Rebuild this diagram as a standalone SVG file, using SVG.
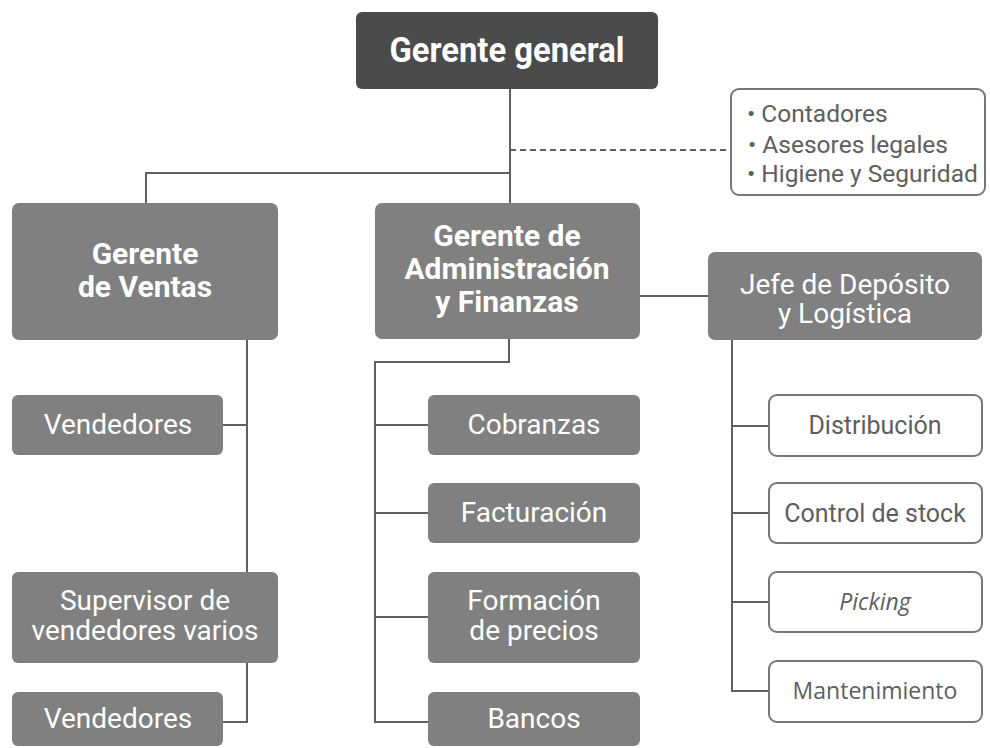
<svg xmlns="http://www.w3.org/2000/svg" width="990" height="748" viewBox="0 0 990 748">
<style>
.dark{fill:#4b4b4b}
.mid{fill:#808080}
.out{fill:#ffffff;stroke:#777777;stroke-width:2}
.wb{font-family:Roboto,"Liberation Sans",sans-serif;font-weight:bold;fill:#ffffff;text-anchor:middle}
.wr{font-family:Roboto,"Liberation Sans",sans-serif;fill:#ffffff;text-anchor:middle;font-size:28px}
.gr{font-family:Roboto,"Liberation Sans",sans-serif;fill:#5e5e5e;text-anchor:middle;font-size:25px}
.os{font-family:"Open Sans","Liberation Sans",sans-serif;fill:#5e5e5e;text-anchor:middle;font-size:23px}
.ln{fill:none;stroke:#606060;stroke-width:2}
</style>
<rect width="990" height="748" fill="#ffffff"/>
<g id="connectors">
<path class="ln" d="M510 89V203"/>
<path class="ln" d="M146 203V173H510"/>
<path class="ln" d="M510 150H731" stroke-dasharray="6 4"/>
<path class="ln" d="M247 340V572"/>
<path class="ln" d="M223 425H247"/>
<path class="ln" d="M247 663V722H223"/>
<path class="ln" d="M509 339V362H375V722H428"/>
<path class="ln" d="M375 425H428M375 513H428M375 617H428"/>
<path class="ln" d="M640 296H708"/>
<path class="ln" d="M732 340V691H769"/>
<path class="ln" d="M732 426H769M732 513H769M732 602H769"/>
</g>
<g id="gerente-general">
<rect class="dark" x="356" y="12" width="302" height="77" rx="6"/>
<text class="wb" x="507" y="62" font-size="35" textLength="235" lengthAdjust="spacingAndGlyphs">Gerente general</text>
</g>
<g id="asesores">
<rect class="out" x="731" y="89" width="254" height="106" rx="8"/>
<text font-family="Roboto,'Liberation Sans',sans-serif" font-size="24.5" fill="#5e5e5e">
<tspan x="747" y="122">• Contadores</tspan>
<tspan x="748" y="153">•  Asesores legales</tspan>
<tspan x="747" y="182">• Higiene y Seguridad</tspan>
</text>
</g>
<g id="gerente-ventas">
<rect class="mid" x="12" y="203" width="266" height="137" rx="7"/>
<text class="wb" font-size="30"><tspan x="145" y="264">Gerente</tspan><tspan x="145" y="297">de Ventas</tspan></text>
</g>
<g id="gerente-admin">
<rect class="mid" x="375" y="203" width="265" height="136" rx="7"/>
<text class="wb" font-size="30"><tspan x="507" y="246">Gerente de</tspan><tspan x="507" y="279">Administración</tspan><tspan x="507" y="312">y Finanzas</tspan></text>
</g>
<g id="jefe-deposito">
<rect class="mid" x="708" y="252" width="274" height="88" rx="7"/>
<text class="wr"><tspan x="845" y="294">Jefe de Depósito</tspan><tspan x="845" y="323">y Logística</tspan></text>
</g>
<g id="vendedores-1">
<rect class="mid" x="12" y="395" width="211" height="60" rx="6"/>
<text class="wr" x="118" y="434">Vendedores</text>
</g>
<g id="supervisor">
<rect class="mid" x="12" y="572" width="266" height="91" rx="6"/>
<text class="wr"><tspan x="145" y="610">Supervisor de</tspan><tspan x="145" y="640">vendedores varios</tspan></text>
</g>
<g id="vendedores-2">
<rect class="mid" x="12" y="692" width="211" height="54" rx="6"/>
<text class="wr" x="118" y="728">Vendedores</text>
</g>
<g id="cobranzas">
<rect class="mid" x="428" y="395" width="212" height="60" rx="6"/>
<text class="wr" x="534" y="434">Cobranzas</text>
</g>
<g id="facturacion">
<rect class="mid" x="428" y="483" width="212" height="60" rx="6"/>
<text class="wr" x="534" y="522">Facturación</text>
</g>
<g id="formacion">
<rect class="mid" x="428" y="572" width="212" height="91" rx="6"/>
<text class="wr"><tspan x="534" y="610">Formación</tspan><tspan x="534" y="640">de precios</tspan></text>
</g>
<g id="bancos">
<rect class="mid" x="428" y="692" width="212" height="54" rx="6"/>
<text class="wr" x="534" y="728">Bancos</text>
</g>
<g id="distribucion">
<rect class="out" x="769" y="395" width="213" height="61" rx="8"/>
<text class="gr" x="875" y="434">Distribución</text>
</g>
<g id="control-stock">
<rect class="out" x="769" y="483" width="213" height="60" rx="8"/>
<text class="gr" x="875" y="522">Control de stock</text>
</g>
<g id="picking">
<rect class="out" x="769" y="572" width="213" height="60" rx="8"/>
<text class="os" x="875" y="610" font-style="italic">Picking</text>
</g>
<g id="mantenimiento">
<rect class="out" x="769" y="661" width="213" height="61" rx="8"/>
<text class="os" x="875" y="699">Mantenimiento</text>
</g>
</svg>
